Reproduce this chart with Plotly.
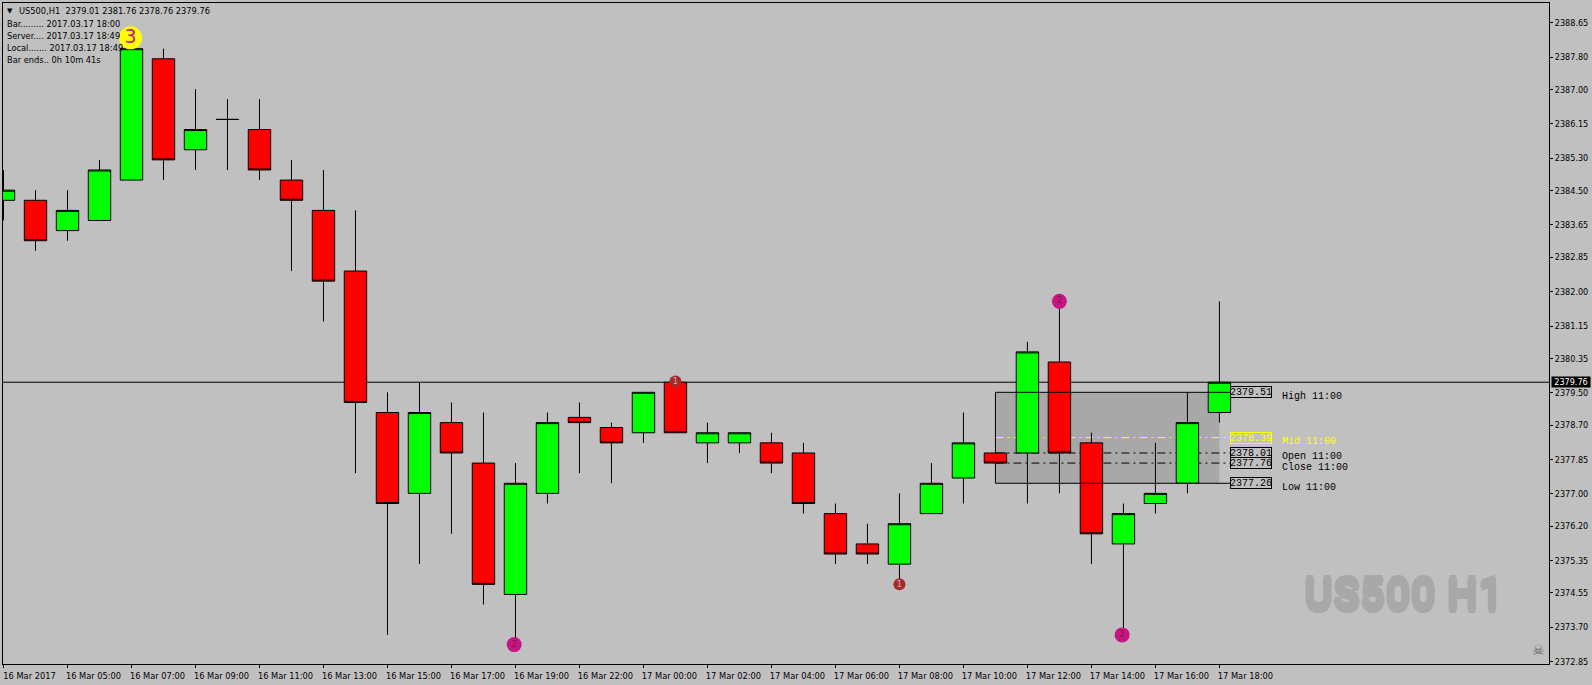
import plotly.graph_objects as go

bar_index = list(range(39))
opens = [2384.26,2384.26,2383.51,2383.76,2384.76,2387.76,2385.51,2386.26,2386.01,2384.76,2384.01,2382.51,2379.01,2377.01,2378.76,2377.76,2374.51,2377.01,2378.89,2378.64,2378.51,2379.76,2378.26,2378.26,2378.26,2378.01,2376.51,2375.76,2375.26,2376.51,2377.39,2378.01,2378.01,2380.26,2378.26,2375.76,2376.76,2377.26,2379.01]
highs = [2385.01,2384.51,2384.51,2385.26,2388.01,2388.01,2387.01,2386.76,2386.76,2385.26,2385.01,2384.01,2379.51,2379.76,2379.26,2379.01,2377.76,2379.01,2379.26,2378.76,2379.51,2379.76,2378.76,2378.51,2378.51,2378.26,2376.76,2376.26,2377.01,2377.76,2379.01,2379.51,2380.76,2381.76,2378.51,2376.76,2378.26,2379.51,2381.76]
lows = [2383.76,2383.01,2383.26,2383.76,2384.76,2384.76,2385.01,2385.01,2384.76,2382.51,2381.26,2377.51,2373.51,2375.26,2376.01,2374.26,2373.26,2376.76,2377.51,2377.26,2378.26,2378.51,2377.76,2378.01,2377.51,2376.51,2375.26,2375.26,2374.76,2376.51,2376.76,2377.26,2376.76,2377.01,2375.26,2373.51,2376.51,2377.01,2378.76]
closes = [2384.51,2383.26,2384.01,2385.01,2388.01,2385.26,2386.01,2386.26,2385.01,2384.26,2382.26,2379.26,2376.76,2379.01,2378.01,2374.76,2377.26,2378.76,2378.76,2378.26,2379.51,2378.51,2378.51,2378.51,2377.76,2376.76,2375.51,2375.51,2376.26,2377.26,2378.26,2377.76,2380.51,2378.01,2376.01,2376.51,2377.01,2378.76,2379.76]

x_tick_index = list(range(0, 39, 2))
x_tick_labels = ["16 Mar 2017","16 Mar 05:00","16 Mar 07:00","16 Mar 09:00","16 Mar 11:00","16 Mar 13:00","16 Mar 15:00","16 Mar 17:00","16 Mar 19:00","16 Mar 22:00","17 Mar 00:00","17 Mar 02:00","17 Mar 04:00","17 Mar 06:00","17 Mar 08:00","17 Mar 10:00","17 Mar 12:00","17 Mar 14:00","17 Mar 16:00","17 Mar 18:00"]
y_ticks = [2388.65,2387.80,2387.00,2386.15,2385.30,2384.50,2383.65,2382.85,2382.00,2381.15,2380.35,2379.50,2378.70,2377.85,2377.00,2376.20,2375.35,2374.55,2373.70,2372.85]

last_price = 2379.76
level_names = ["High 11:00","Mid 11:00","Open 11:00","Close 11:00","Low 11:00"]
level_values = [2379.51,2378.39,2378.01,2377.76,2377.26]
level_colors = ["#000000","#FFFF00","#000000","#000000","#000000"]
level_start_bar = 31
level_end_bar = 38

yellow_mark_x = [3.97]
yellow_mark_y = [2388.28]
yellow_mark_text = ["3"]
purple_mark_x = [15.96,33,34.96]
purple_mark_y = [2373.27,2381.76,2373.51]
purple_mark_text = ["2","2","2"]
brown_mark_x = [21,28]
brown_mark_y = [2379.78,2374.76]
brown_mark_text = ["1","1"]

info_lines = ["Bar......... 2017.03.17 18:00","Server.... 2017.03.17 18:49","Local....... 2017.03.17 18:49","Bar ends.. 0h 10m 41s"]
header = "US500,H1  2379.01 2381.76 2378.76 2379.76"

BG = "#C0C0C0"
UI = "DejaVu Sans Condensed, Roboto"
UI_SIZE = 9
MONO = "Liberation Mono"
L, R, T, B = 3, 1549, 3, 664

def px(x): return (x - L) / (R - L)
def py(y): return (B - y) / (B - T)

fig = go.Figure()
fig.add_trace(go.Candlestick(
    x=bar_index, open=opens, high=highs, low=lows, close=closes,
    increasing=dict(line=dict(color="#000000", width=1), fillcolor="#00FF00"),
    decreasing=dict(line=dict(color="#000000", width=1), fillcolor="#FF0000"),
    whiskerwidth=0, showlegend=False, hoverinfo="skip"))

def marks(x, y, text, color, size, tcolor, tsize):
    fig.add_trace(go.Scatter(x=x, y=y, text=text, mode="markers+text", textposition="middle center",
        marker=dict(color=color, size=size, line=dict(width=0)),
        textfont=dict(family="DejaVu Sans", color=tcolor, size=tsize),
        showlegend=False, hoverinfo="skip", cliponaxis=False))

marks(purple_mark_x, purple_mark_y, purple_mark_text, "#C71585", 15, "#7A2020", 8)
marks(brown_mark_x, brown_mark_y, brown_mark_text, "#A52A2A", 12, "#E0A0B8", 9)
marks(yellow_mark_x, yellow_mark_y, yellow_mark_text, "#FFFF00", 23, "#C71585", 19)

shapes = [
    dict(type="rect", layer="below", x0=level_start_bar, x1=level_end_bar, y0=level_values[4], y1=level_values[0],
         fillcolor="#A8A8A8", line=dict(width=0)),
    dict(type="line", layer="below", xref="paper", x0=0, x1=1, y0=last_price, y1=last_price,
         line=dict(color="#000000", width=1)),
]
for i, (v, c) in enumerate(zip(level_values, level_colors)):
    solid = i in (0, 4)
    shapes.append(dict(type="line", layer="above" if solid else "below",
        x0=level_start_bar, x1=level_end_bar + 0.34, y0=v, y1=v,
        line=dict(color=c, width=1, dash="solid" if solid else "8px,4px,2px,4px")))

ann = []
for name, v, c in zip(level_names, level_values, level_colors):
    ann.append(dict(xref="x", yref="y", x=level_end_bar + 0.34, y=v, text=f"{v:.2f}", showarrow=False,
        xanchor="left", yanchor="middle", width=40, height=10, borderpad=0, borderwidth=1, bordercolor=c,
        bgcolor=BG, font=dict(family=MONO, size=10, color=c)))
    ann.append(dict(xref="x", yref="y", x=level_end_bar + 1.89, y=v, yshift=-4, text=name, showarrow=False,
        xanchor="left", yanchor="middle", font=dict(family=MONO, size=10, color=c)))

ann.append(dict(xref="paper", yref="y", x=1, xshift=2, y=last_price, text=f"{last_price:.2f}", showarrow=False,
    xanchor="left", yanchor="middle", bgcolor="#000000", width=38, height=10, borderpad=0,
    font=dict(family=UI, size=UI_SIZE, color="#FFFFFF")))
ann.append(dict(xref="paper", yref="paper", x=px(9.7), y=py(10.7), text="▼", showarrow=False, xanchor="center", yanchor="middle",
    font=dict(family="DejaVu Sans", size=7, color="#000000")))
ann.append(dict(xref="paper", yref="paper", x=px(17), y=py(10.7), text=header, showarrow=False, xanchor="left", yanchor="middle",
    font=dict(family=UI, size=9.2, color="#000000")))
for line, yy in zip(info_lines, [23.7, 35.6, 47.7, 59.5]):
    ann.append(dict(xref="paper", yref="paper", x=px(5), y=py(yy), text=line, showarrow=False, xanchor="left", yanchor="middle",
        font=dict(family=UI, size=9.2, color="#000000")))
wm = "#A8A8A8"
ann.append(dict(xref="paper", yref="paper", x=px(1403.5), y=py(595), text="<b>US500 H1</b>", showarrow=False, xanchor="center", yanchor="middle",
    font=dict(family="Roboto", size=44, color=wm, shadow=f"0 3px 0 {wm}, 0 -3px 0 {wm}, 1px 0 0 {wm}, -1px 0 0 {wm}")))
ann.append(dict(xref="paper", yref="paper", x=px(1538.5), y=py(650), text="☠", showarrow=False, xanchor="center", yanchor="middle",
    font=dict(family="DejaVu Sans", size=14, color="#606060")))

fig.update_layout(
    width=1592, height=685, autosize=False,
    margin=dict(l=L, r=1592 - R, t=T, b=685 - B, pad=0, autoexpand=False),
    paper_bgcolor=BG, plot_bgcolor=BG, boxgap=0,
    shapes=shapes, annotations=ann, showlegend=False,
    xaxis=dict(range=[-0.0156, 48.30], tickmode="array", tickvals=x_tick_index, ticktext=x_tick_labels,
        ticks="outside", ticklen=3, tickcolor="#000000", tickwidth=1, showgrid=False, zeroline=False,
        showline=True, linecolor="#000000", linewidth=1, mirror=True, ticklabelshift=26,
        tickangle=0, rangeslider=dict(visible=False), tickfont=dict(family=UI, size=9.2, color="#000000")),
    yaxis=dict(range=[2372.79, 2389.14], side="right", tickmode="array", tickvals=y_ticks,
        ticktext=[f"{v:.2f}" for v in y_ticks], ticks="outside", ticklen=3, tickcolor="#000000", tickwidth=1,
        showgrid=False, zeroline=False, showline=True, linecolor="#000000", linewidth=1, mirror=True,
        tickfont=dict(family=UI, size=UI_SIZE, color="#000000")),
)
fig.write_html("out.html", config={"displayModeBar": False},
               post_script="document.body.style.margin='0';document.body.style.background='#C0C0C0';")
